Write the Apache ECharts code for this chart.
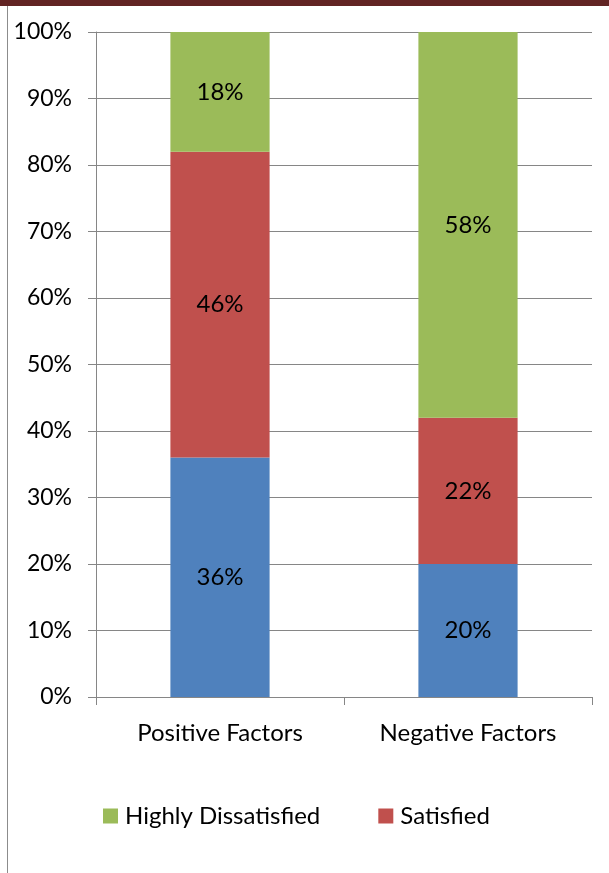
<!DOCTYPE html>
<html>
<head>
<meta charset="utf-8">
<script src="https://cdn.jsdelivr.net/npm/echarts@6/dist/echarts.min.js"></script>
<style>
  html, body { margin: 0; padding: 0; background: #fff; }
  #chart { width: 609px; height: 873px; }
</style>
</head>
<body>
<div id="chart"></div>
<script>
// Survey response shares (percent) per factor group
const categories = ['Positive Factors', 'Negative Factors'];
const dissatisfied = [36, 20];
const satisfied = [46, 22];
const highlyDissatisfied = [18, 58];
const yTicks = [0, 10, 20, 30, 40, 50, 60, 70, 80, 90, 100];

const FONT = 'Lato';
const FS = 24;
const chart = echarts.init(document.getElementById('chart'));

const labelStyle = {
  show: true,
  position: 'inside',
  formatter: p => p.value + '%',
  color: '#000',
  fontFamily: FONT,
  fontSize: FS
};

chart.setOption({
  animation: false,
  textStyle: { fontFamily: FONT },
  graphic: [
    { type: 'rect', shape: { x: 0, y: 0, width: 609, height: 6 }, style: { fill: '#622423' } },
    { type: 'rect', shape: { x: 7, y: 6, width: 1, height: 867 }, style: { fill: '#8c8c8c' } }
  ],
  grid: { left: 96, right: 17, top: 32, bottom: 176, containLabel: false },
  legend: {
    data: ['Highly Dissatisfied', 'Satisfied'],
    left: 98,
    top: 799,
    itemWidth: 15,
    itemHeight: 15,
    itemGap: 58,
    icon: 'rect',
    textStyle: { fontFamily: FONT, fontSize: FS, color: '#000', padding: [0, 0, 0, 2] }
  },
  xAxis: {
    type: 'category',
    data: categories,
    axisLine: { lineStyle: { color: '#868686', width: 1 } },
    axisTick: { show: true, alignWithLabel: false, length: 8, lineStyle: { color: '#868686' } },
    axisLabel: { color: '#000', fontFamily: FONT, fontSize: FS, margin: 24 }
  },
  yAxis: {
    type: 'value',
    min: 0,
    max: 100,
    interval: 10,
    axisLine: { show: true, lineStyle: { color: '#868686', width: 1 } },
    axisTick: { show: true, length: 8, lineStyle: { color: '#868686' } },
    axisLabel: {
      color: '#000', fontFamily: FONT, fontSize: 23, margin: 24,
      formatter: v => (yTicks.includes(v) ? v + '%' : '')
    },
    splitLine: { show: true, lineStyle: { color: '#868686', width: 1 } }
  },
  series: [
    { name: 'Dissatisfied', type: 'bar', stack: 'total', barWidth: '40%',
      itemStyle: { color: '#4F81BD' }, label: labelStyle, data: dissatisfied },
    { name: 'Satisfied', type: 'bar', stack: 'total',
      itemStyle: { color: '#C0504D' }, label: labelStyle, data: satisfied },
    { name: 'Highly Dissatisfied', type: 'bar', stack: 'total',
      itemStyle: { color: '#9BBB59' }, label: labelStyle, data: highlyDissatisfied }
  ]
});
</script>
</body>
</html>
